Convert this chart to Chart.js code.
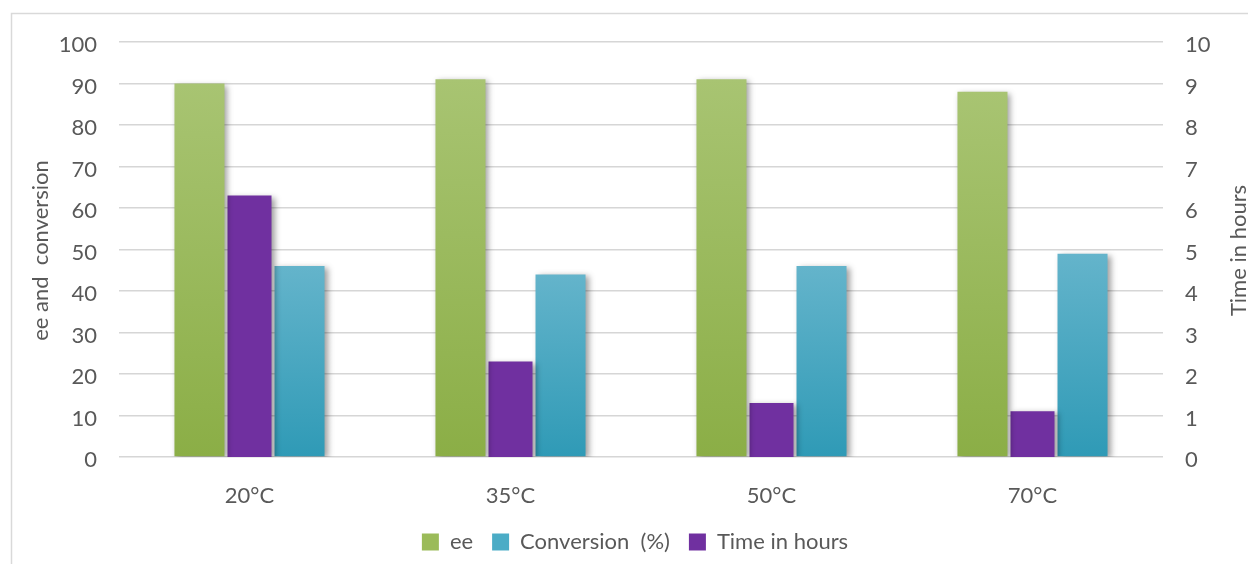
<!DOCTYPE html>
<html>
<head>
<meta charset="utf-8">
<script src="https://cdn.jsdelivr.net/npm/chart.js@4/dist/chart.umd.min.js"></script>
<style>
  html, body { margin: 0; padding: 0; background: #ffffff; }
  #wrap { position: relative; width: 1248px; height: 564px; }
</style>
</head>
<body>
<div id="wrap"><canvas id="c" width="1248" height="564"></canvas></div>
<script>
// ---- data ----
const categories = ['20°C', '35°C', '50°C', '70°C'];
const eeValues = [90, 91, 91, 88];
const conversionValues = [46, 44, 46, 49];
const timeValues = [6.3, 2.3, 1.3, 1.1];
const leftTicks = [0, 10, 20, 30, 40, 50, 60, 70, 80, 90, 100];
const rightTicks = [0, 1, 2, 3, 4, 5, 6, 7, 8, 9, 10];
const seriesNames = { ee: 'ee', conversion: 'Conversion  (%)', time: 'Time in hours' };
const axisTitles = { left: 'ee and  conversion', right: 'Time in hours' };

// ---- styles ----
const FONT = 'Lato, "Open Sans", sans-serif';
const FS = 22;
const TEXT = '#595959';
const GRID = '#d6d6d6';

function barGradient(top, bottom, axisId) {
  return function (ctx) {
    const chart = ctx.chart;
    if (ctx.type !== 'data' || !chart.chartArea) return top;
    const sc = chart.scales[axisId];
    const yT = sc.getPixelForValue(ctx.raw);
    const yB = sc.getPixelForValue(0);
    if (!isFinite(yT) || !isFinite(yB) || yT === yB) return top;
    const g = chart.ctx.createLinearGradient(0, yT, 0, yB);
    g.addColorStop(0, top);
    g.addColorStop(1, bottom);
    return g;
  };
}

const legendColors = {};
legendColors[seriesNames.ee] = '#9bbb59';
legendColors[seriesNames.conversion] = '#4bacc6';
legendColors[seriesNames.time] = '#7030a0';
const legendOrder = [seriesNames.ee, seriesNames.conversion, seriesNames.time];

const CP = 0.575;

const shadowPlugin = {
  id: 'barShadow',
  beforeDatasetDraw(chart) {
    const c = chart.ctx;
    c.save();
    c.shadowColor = 'rgba(0,0,0,0.38)';
    c.shadowBlur = 6;
    c.shadowOffsetX = 3;
    c.shadowOffsetY = 2;
  },
  afterDatasetDraw(chart) {
    chart.ctx.restore();
  }
};

const legendShift = {
  id: 'legendShift',
  afterLayout(chart) {
    const lg = chart.legend;
    if (lg) { lg.left += 11; lg.right += 11; }
  }
};

const framePlugin = {
  id: 'frame',
  beforeDraw(chart) {
    const c = chart.ctx;
    c.save();
    c.fillStyle = '#ffffff';
    c.fillRect(0, 0, chart.width, chart.height);
    c.strokeStyle = '#d9d9d9';
    c.lineWidth = 1.5;
    c.strokeRect(11.5, 13.5, 1260, 600);
    c.restore();
  },
  afterDraw(chart) {
    const c = chart.ctx;
    const a = chart.chartArea;
    const midY = (a.top + a.bottom) / 2 + 1;
    c.save();
    c.fillStyle = TEXT;
    c.font = FS + 'px ' + FONT;
    c.textAlign = 'center';
    c.textBaseline = 'middle';
    c.translate(41, midY);
    c.rotate(-Math.PI / 2);
    c.fillText(axisTitles.left, 0, 0);
    c.restore();
    c.save();
    c.fillStyle = TEXT;
    c.font = FS + 'px ' + FONT;
    c.textAlign = 'center';
    c.textBaseline = 'middle';
    c.translate(1239, midY);
    c.rotate(-Math.PI / 2);
    c.fillText(axisTitles.right, 0, 0);
    c.restore();
  }
};

new Chart(document.getElementById('c'), {
  type: 'bar',
  data: {
    labels: categories,
    datasets: [
      {
        label: seriesNames.ee,
        data: eeValues,
        yAxisID: 'y',
        backgroundColor: barGradient('#a8c472', '#8bae46', 'y'),
        categoryPercentage: CP,
        barPercentage: 1.0
      },
      {
        label: seriesNames.time,
        data: timeValues,
        yAxisID: 'y1',
        backgroundColor: '#7030a0',
        categoryPercentage: CP,
        barPercentage: 0.88
      },
      {
        label: seriesNames.conversion,
        data: conversionValues,
        yAxisID: 'y',
        backgroundColor: barGradient('#64b4cb', '#2f9ab6', 'y'),
        categoryPercentage: CP,
        barPercentage: 1.0
      }
    ]
  },
  options: {
    responsive: false,
    animation: false,
    devicePixelRatio: 1,
    layout: { padding: { top: 42, left: 0, right: 0, bottom: 1 } },
    plugins: {
      tooltip: { enabled: false },
      legend: {
        position: 'bottom',
        labels: {
          font: { family: FONT, size: FS },
          color: TEXT,
          boxWidth: 17,
          boxHeight: 17,
          padding: 19,
          sort: (a, b) => legendOrder.indexOf(a.text) - legendOrder.indexOf(b.text),
          generateLabels(chart) {
            return chart.data.datasets.map((ds, i) => ({
              text: ds.label,
              fillStyle: legendColors[ds.label],
              strokeStyle: legendColors[ds.label],
              lineWidth: 0,
              fontColor: TEXT,
              hidden: false,
              datasetIndex: i
            }));
          }
        }
      }
    },
    scales: {
      x: {
        grid: { display: false, drawTicks: false },
        border: { display: false },
        ticks: { font: { family: FONT, size: FS }, color: TEXT, padding: 26 },
        afterFit(s) { s.height = 55; }
      },
      y: {
        position: 'left',
        min: 0, max: 100,
        afterBuildTicks(s) { s.ticks = leftTicks.map(v => ({ value: v })); },
        grid: { color: GRID, lineWidth: 1.6, drawTicks: false },
        border: { display: false },
        ticks: { font: { family: FONT, size: FS }, color: TEXT, padding: 22, labelOffset: 3 },
        afterFit(s) { s.width = 119; }
      },
      y1: {
        position: 'right',
        min: 0, max: 10,
        afterBuildTicks(s) { s.ticks = rightTicks.map(v => ({ value: v })); },
        grid: { display: false, drawTicks: false },
        border: { display: false },
        ticks: { font: { family: FONT, size: FS }, color: TEXT, padding: 22, labelOffset: 3 },
        afterFit(s) { s.width = 85; }
      }
    }
  },
  plugins: [framePlugin, shadowPlugin, legendShift]
});
</script>
</body>
</html>
